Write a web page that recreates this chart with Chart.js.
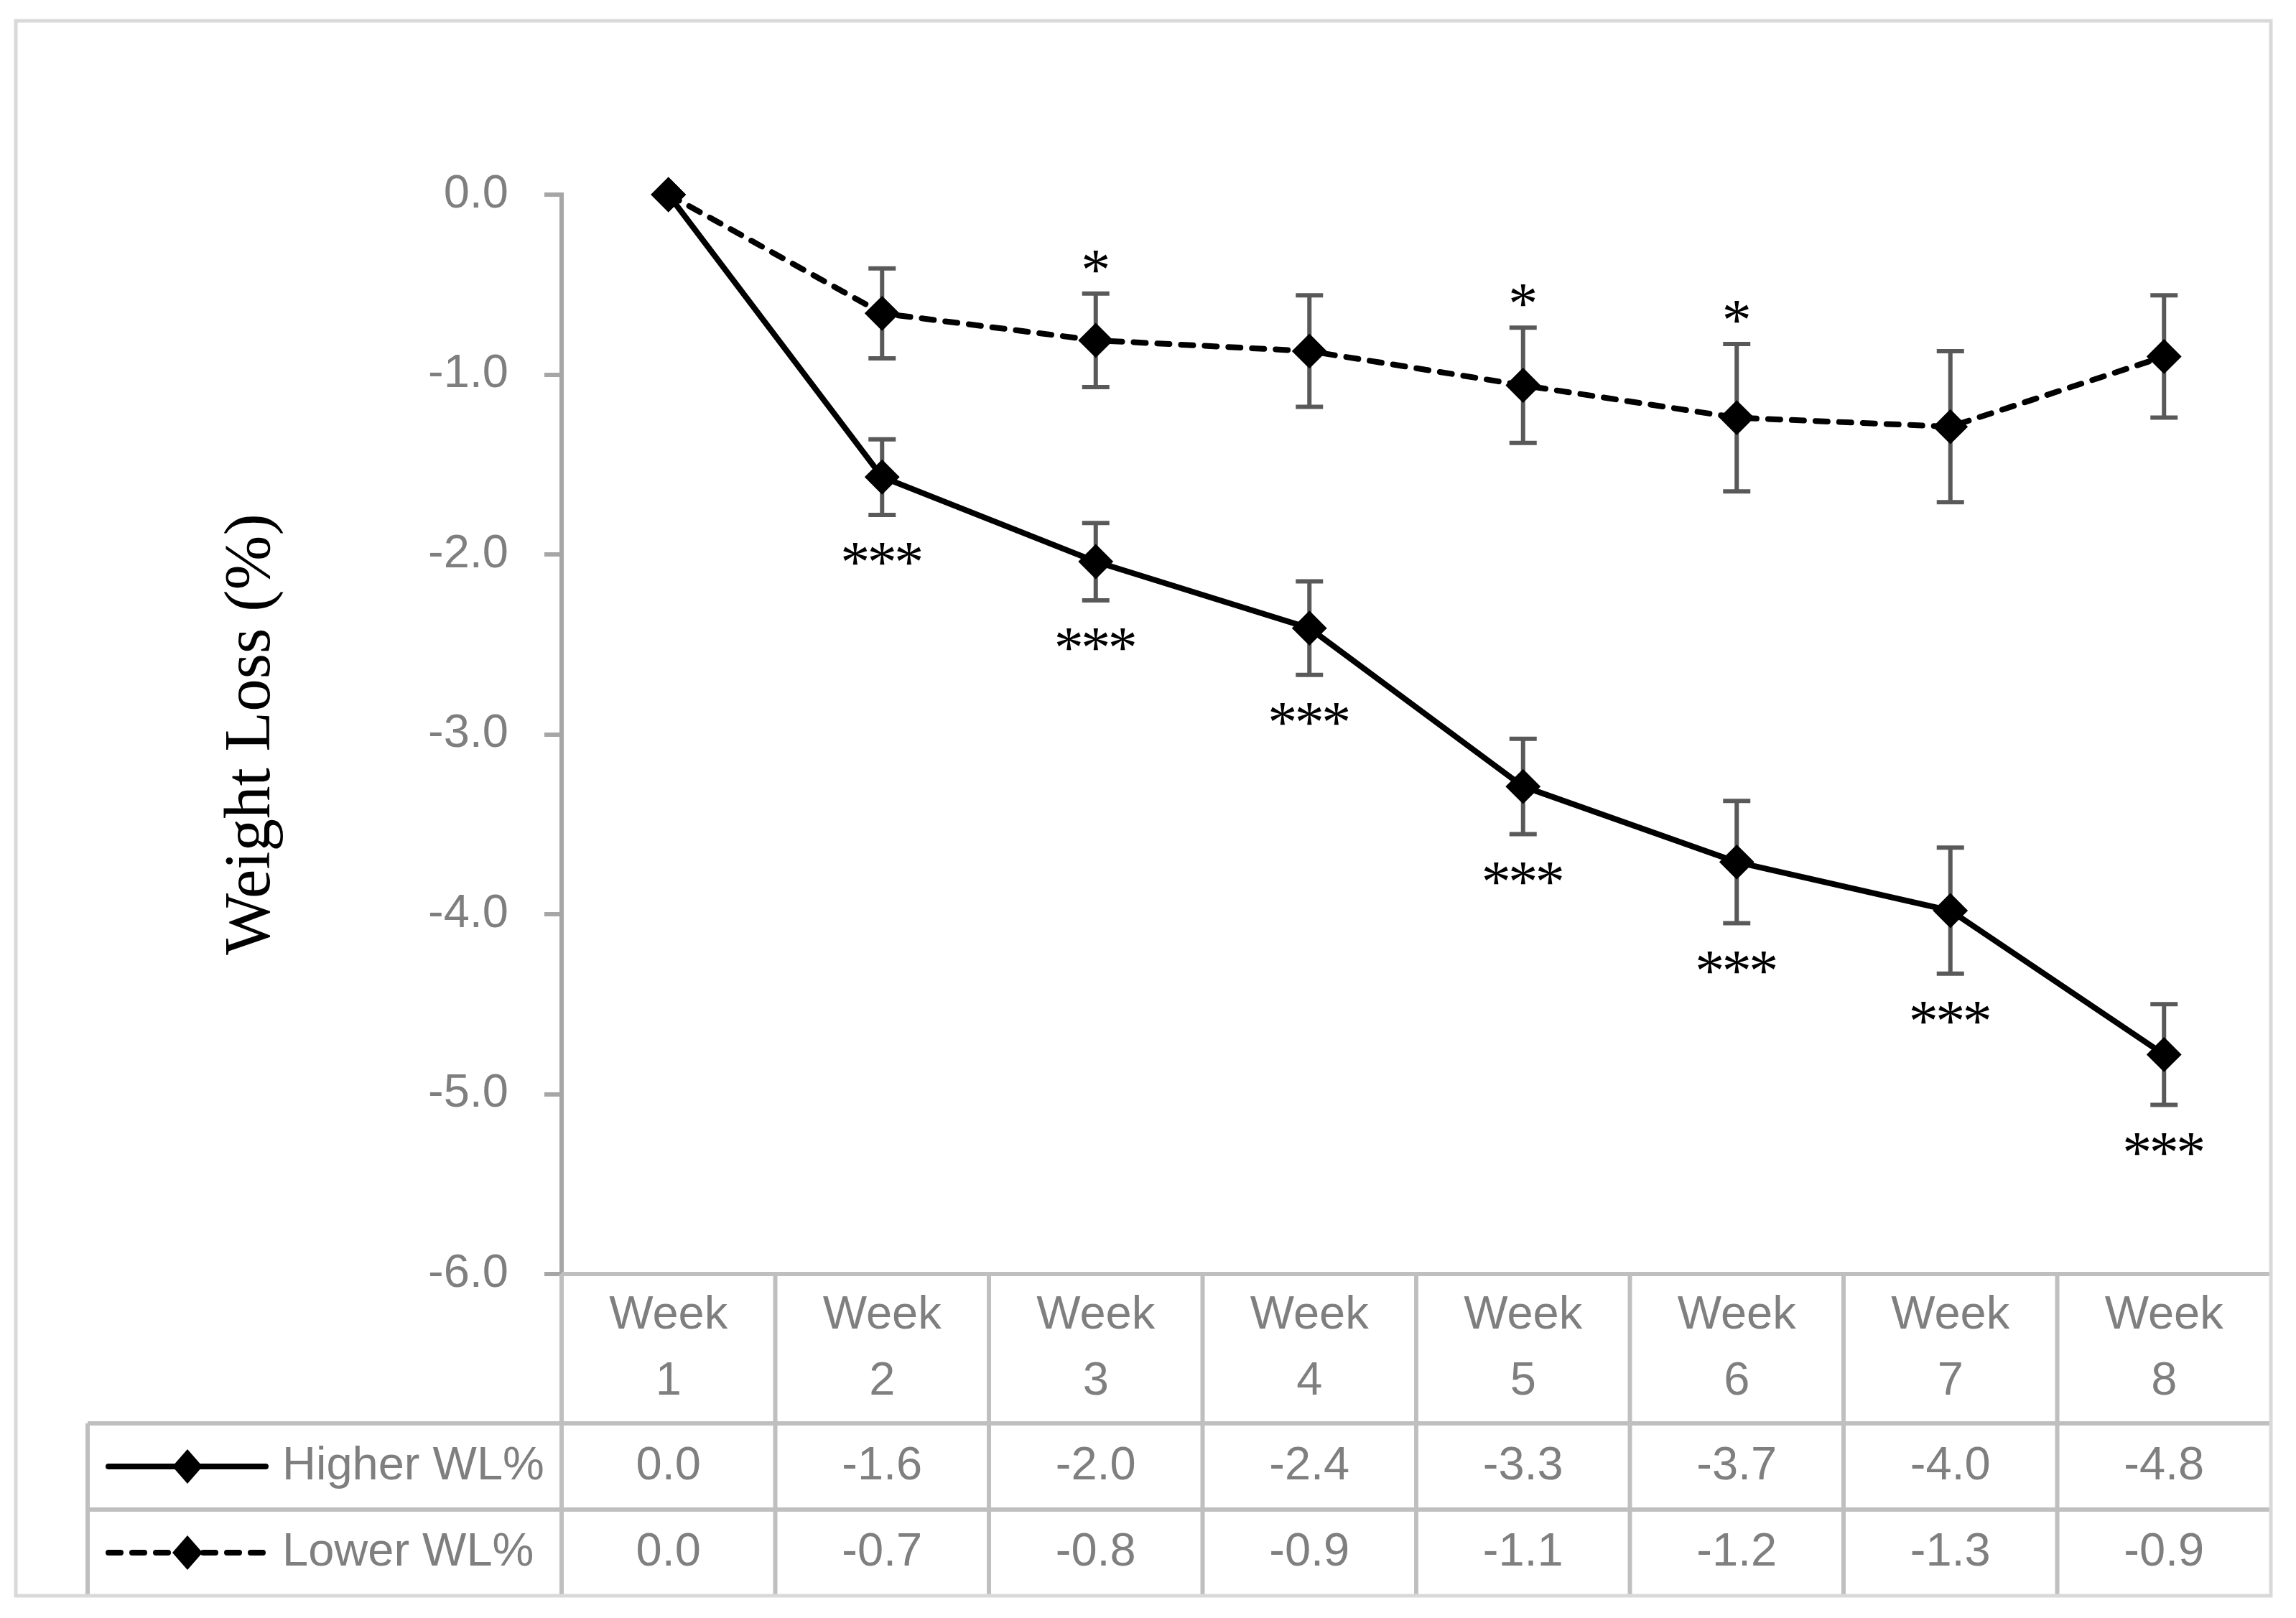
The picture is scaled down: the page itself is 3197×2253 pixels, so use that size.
<!DOCTYPE html>
<html>
<head>
<meta charset="utf-8">
<script src="https://cdn.jsdelivr.net/npm/chart.js@4/dist/chart.umd.min.js"></script>
<style>
  html, body { margin: 0; padding: 0; background: #fff; }
  canvas { display: block; }
</style>
</head>
<body>
<canvas id="weightloss" width="3197" height="2253" style="width:3197px;height:2253px"></canvas>
<script>
// values (weight change %, mean and error bar half-length)
const weeks = ['Week 1', 'Week 2', 'Week 3', 'Week 4', 'Week 5', 'Week 6', 'Week 7', 'Week 8'];
const higherWL = [0, -1.57, -2.04, -2.41, -3.29, -3.71, -3.98, -4.78];
const higherErr = [0, 0.21, 0.215, 0.26, 0.265, 0.34, 0.35, 0.28];
const lowerWL = [0, -0.66, -0.81, -0.87, -1.06, -1.24, -1.29, -0.90];
const lowerErr = [0, 0.25, 0.26, 0.31, 0.32, 0.41, 0.42, 0.34];
const higherSig = ['', '***', '***', '***', '***', '***', '***', '***'];
const lowerSig = ['', '', '*', '', '*', '*', '', ''];
const yMin = -6, yMax = 0, yStep = 1;

const gray = '#7F7F7F';
const sans = '"Liberation Sans", Arial, sans-serif';
const serif = '"Liberation Serif", "Times New Roman", serif';

const errorBars = {
  id: 'errorBars',
  beforeDatasetsDraw(chart) {
    const {ctx, scales: {x, y}} = chart;
    ctx.save();
    ctx.strokeStyle = '#595959';
    ctx.lineWidth = 6;
    [[higherWL, higherErr], [lowerWL, lowerErr]].forEach(([vals, err]) => {
      vals.forEach((v, i) => {
        if (!err[i]) return;
        const px = x.getPixelForValue(i);
        const top = y.getPixelForValue(v + err[i]);
        const bot = y.getPixelForValue(v - err[i]);
        ctx.beginPath();
        ctx.moveTo(px, top); ctx.lineTo(px, bot);
        ctx.moveTo(px - 19, top); ctx.lineTo(px + 19, top);
        ctx.moveTo(px - 19, bot); ctx.lineTo(px + 19, bot);
        ctx.stroke();
      });
    });
    ctx.restore();
  }
};

// significance marks, one glyph at a time so they sit close together
function drawMarks(ctx, s, cx, base) {
  const step = 37.5;
  const start = cx - step * (s.length - 1) / 2;
  for (let k = 0; k < s.length; k++) ctx.fillText(s[k], start + k * step, base);
}

const stars = {
  id: 'stars',
  afterDatasetsDraw(chart) {
    const {ctx, scales: {x, y}} = chart;
    ctx.save();
    ctx.fillStyle = '#000';
    ctx.font = '82px ' + serif;
    ctx.textAlign = 'center';
    ctx.textBaseline = 'alphabetic';
    higherSig.forEach((s, i) => {
      if (!s) return;
      const bot = y.getPixelForValue(higherWL[i] - higherErr[i]);
      drawMarks(ctx, s, x.getPixelForValue(i), bot + 93);
    });
    lowerSig.forEach((s, i) => {
      if (!s) return;
      const top = y.getPixelForValue(lowerWL[i] + lowerErr[i]);
      drawMarks(ctx, s, x.getPixelForValue(i), top - 6);
    });
    ctx.restore();
  }
};

// excel style data table under the plot
const dataTable = {
  id: 'dataTable',
  afterDraw(chart) {
    const {ctx, chartArea: area, scales: {x}} = chart;
    const colW = x.getPixelForValue(1) - x.getPixelForValue(0);
    const tLeft = 122, headBot = 1982, rowH = 120;
    const rows = [
      {name: 'Higher WL%', vals: higherWL, ds: chart.data.datasets[0]},
      {name: 'Lower WL%', vals: lowerWL, ds: chart.data.datasets[1]}
    ];
    const bottom = headBot + rowH * rows.length;
    ctx.save();

    // grid lines
    ctx.strokeStyle = '#BFBFBF';
    ctx.lineWidth = 6;
    ctx.beginPath();
    ctx.moveTo(area.left, area.bottom); ctx.lineTo(area.right, area.bottom);
    rows.forEach((r, k) => {
      const yy = headBot + rowH * k;
      ctx.moveTo(tLeft, yy); ctx.lineTo(area.right, yy);
    });
    ctx.moveTo(tLeft, headBot); ctx.lineTo(tLeft, bottom);
    for (let i = 0; i < weeks.length; i++) {
      const xx = x.getPixelForValue(i) - colW / 2;
      ctx.moveTo(xx, area.bottom); ctx.lineTo(xx, bottom);
    }
    ctx.stroke();

    // outer chart border
    ctx.strokeStyle = '#D9D9D9';
    ctx.lineWidth = 5;
    ctx.strokeRect(22, 29, area.right - 22, bottom - 29);

    // header
    ctx.fillStyle = gray;
    ctx.font = '65px ' + sans;
    ctx.textAlign = 'center';
    ctx.textBaseline = 'middle';
    const headMid = (area.bottom + headBot) / 2;
    weeks.forEach((w, i) => {
      const parts = w.split(' ');
      const px = x.getPixelForValue(i);
      ctx.fillText(parts[0], px, headMid - 46);
      ctx.fillText(parts[1], px, headMid + 46);
    });

    // rows
    rows.forEach((r, k) => {
      const cy = headBot + rowH * k + rowH / 2;
      r.vals.forEach((v, i) => {
        ctx.fillText(v.toFixed(1), x.getPixelForValue(i), cy);
      });
      // legend key
      ctx.save();
      ctx.strokeStyle = r.ds.borderColor;
      ctx.lineWidth = r.ds.borderWidth;
      ctx.lineCap = 'round';
      ctx.setLineDash(r.ds.borderDash || []);
      ctx.beginPath();
      ctx.moveTo(151, cy); ctx.lineTo(370, cy);
      ctx.stroke();
      ctx.restore();
      ctx.save();
      ctx.fillStyle = '#000';
      ctx.beginPath();
      ctx.moveTo(261, cy - 24); ctx.lineTo(282, cy); ctx.lineTo(261, cy + 24); ctx.lineTo(240, cy);
      ctx.closePath();
      ctx.fill();
      ctx.restore();
      ctx.textAlign = 'left';
      ctx.fillText(r.name, 393, cy);
      ctx.textAlign = 'center';
    });
    ctx.restore();
  }
};

new Chart(document.getElementById('weightloss'), {
  type: 'line',
  data: {
    labels: weeks,
    datasets: [
      {
        label: 'Higher WL%',
        data: higherWL,
        borderColor: '#000',
        borderWidth: 8,
        pointStyle: 'rectRot',
        pointRadius: 23,
        pointBorderWidth: 2,
        pointBackgroundColor: '#000',
        pointBorderColor: '#000',
        tension: 0,
        clip: false
      },
      {
        label: 'Lower WL%',
        data: lowerWL,
        borderColor: '#000',
        borderWidth: 8,
        borderDash: [17, 16],
        borderCapStyle: 'round',
        pointStyle: 'rectRot',
        pointRadius: 23,
        pointBorderWidth: 2,
        pointBackgroundColor: '#000',
        pointBorderColor: '#000',
        tension: 0,
        clip: false
      }
    ]
  },
  options: {
    responsive: false,
    devicePixelRatio: 1,
    animation: false,
    layout: { padding: { top: 271, right: 35, bottom: 479, left: 0 } },
    plugins: {
      legend: { display: false },
      tooltip: { enabled: false }
    },
    scales: {
      x: {
        type: 'category',
        offset: true,
        display: false
      },
      y: {
        min: yMin,
        max: yMax,
        afterFit(scale) { scale.width = 782; },
        ticks: {
          stepSize: yStep,
          padding: 50,
          color: gray,
          font: { family: sans, size: 65 },
          callback: v => Number(v).toFixed(1)
        },
        grid: {
          drawOnChartArea: false,
          drawTicks: true,
          tickLength: 24,
          tickWidth: 6,
          tickColor: '#A6A6A6',
          color: '#A6A6A6',
          lineWidth: 6
        },
        border: { display: true, color: '#A6A6A6', width: 6 },
        title: {
          display: true,
          text: 'Weight Loss (%)',
          color: '#000',
          font: { family: serif, size: 91 },
          padding: { top: 296, bottom: 0 }
        }
      }
    }
  },
  plugins: [errorBars, stars, dataTable]
});
</script>
</body>
</html>
